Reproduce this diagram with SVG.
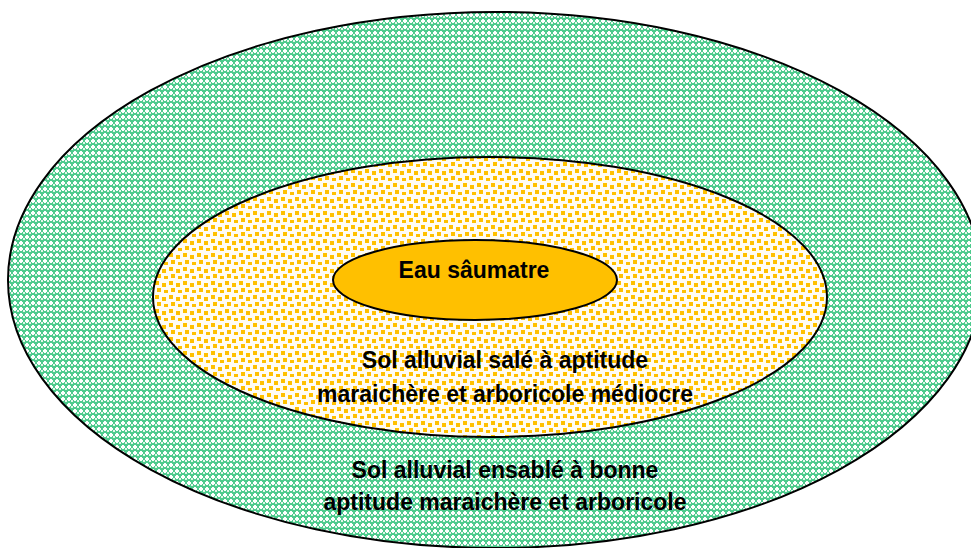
<svg xmlns="http://www.w3.org/2000/svg" width="971" height="548" viewBox="0 0 971 548">
<defs>
<pattern id="green" width="6" height="6" patternUnits="userSpaceOnUse">
<rect width="6" height="6" fill="#4fcb8e"/>
<rect x="2" y="1" width="2" height="4" fill="#ffffff"/>
<rect x="1" y="2" width="4" height="2" fill="#ffffff"/>
<rect x="5" y="4" width="1" height="2" fill="#e2f6ea"/>
<rect x="0" y="4" width="1" height="2" fill="#e2f6ea"/>
</pattern>
<pattern id="orange" width="14" height="14" patternUnits="userSpaceOnUse">
<rect width="14" height="14" fill="#fffcf4"/>
<rect x="1" y="1" width="4" height="4" fill="#ffc000"/>
<rect x="8" y="3" width="4" height="4" fill="#ffc000"/>
<rect x="3" y="8" width="4" height="4" fill="#ffc000"/>
<rect x="10" y="10" width="4" height="3" fill="#ffc000"/>
</pattern>
<style>
.lbl{font-family:"Liberation Sans",Arial,sans-serif;font-weight:bold;font-size:23px;fill:#000;text-anchor:middle}
.zone{stroke:#000;stroke-width:2}
</style>
</defs>
<g id="outer">
<ellipse class="zone" cx="495" cy="280" rx="487" ry="268" fill="url(#green)"/>
<text class="lbl" x="505" y="478">Sol alluvial ensablé à bonne</text>
<text class="lbl" x="505" y="510">aptitude maraichère et arboricole</text>
</g>
<g id="middle">
<ellipse class="zone" cx="490" cy="297" rx="337" ry="140" fill="url(#orange)"/>
<text class="lbl" x="505" y="368">Sol alluvial salé à aptitude</text>
<text class="lbl" x="505" y="402">maraichère et arboricole médiocre</text>
</g>
<g id="inner">
<ellipse class="zone" cx="475" cy="280" rx="142" ry="40" fill="#ffc000"/>
<text class="lbl" x="474" y="278">Eau sâumatre</text>
</g>
<g id="connectors"/>
</svg>
